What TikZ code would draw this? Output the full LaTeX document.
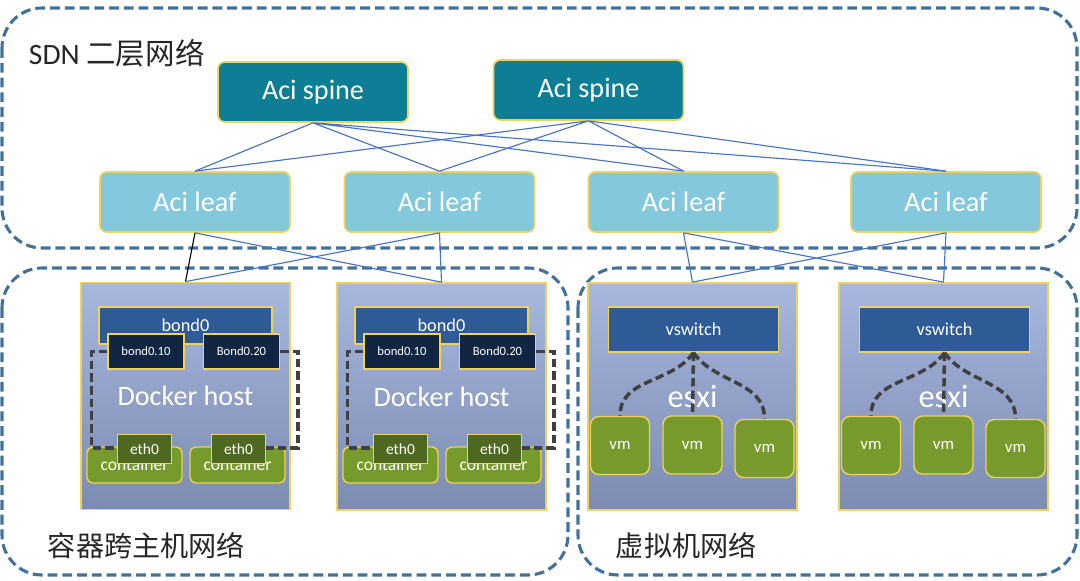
\documentclass[tikz,border=0pt]{standalone}
\usepackage{fontspec}
\setmainfont{Carlito}
\newfontfamily\cjk{Noto Sans CJK SC}
\usepackage{xcolor}
\usepackage{tikz}
\usetikzlibrary{positioning}
\definecolor{zoneblue}{RGB}{65,113,156}
\definecolor{spineteal}{RGB}{14,125,150}
\definecolor{leafblue}{RGB}{132,200,222}
\definecolor{edgeyellow}{RGB}{238,210,90}
\definecolor{linkblue}{RGB}{68,114,196}
\definecolor{bondblue}{RGB}{46,90,150}
\definecolor{vlannavy}{RGB}{18,38,68}
\definecolor{ethgreen}{RGB}{78,104,32}
\definecolor{vmgreen}{RGB}{118,155,44}
\definecolor{hosttop}{RGB}{168,183,222}
\definecolor{hostbot}{RGB}{124,139,176}
\definecolor{vethgray}{RGB}{64,64,64}

\begin{document}
\begin{tikzpicture}[x=0.025cm,y=-0.025cm,
  zone/.style={draw=zoneblue, line width=2.2pt, dash pattern=on 7pt off 3.5pt, rounded corners=1cm},
  zonetext/.style={anchor=west, text=black!85, font=\fontsize{20}{24}\selectfont},
  spine/.style={rectangle, draw=edgeyellow, line width=1.2pt, fill=spineteal, rounded corners=5pt, text=white,
              font=\fontsize{20}{24}\selectfont, minimum width=4.75cm, minimum height=1.5cm},
  leaf/.style={spine, fill=leafblue},
  host/.style={rectangle, draw=edgeyellow, line width=1.2pt, top color=hosttop, bottom color=hostbot, text=white,
              font=\fontsize{20}{24}\selectfont, minimum width=5.225cm, minimum height=5.675cm},
  esxihost/.style={host, font=\fontsize{23}{27}\selectfont},
  bond/.style={rectangle, draw=edgeyellow, line width=1pt, fill=bondblue, text=white, font=\fontsize{13}{15}\selectfont,
              minimum width=4.325cm, minimum height=0.925cm},
  vswitch/.style={bond, minimum width=4.25cm, minimum height=1.125cm},
  vlan/.style={rectangle, draw=edgeyellow, line width=1pt, fill=vlannavy, text=white,
              font=\fontsize{9}{11}\selectfont, minimum width=1.9cm, minimum height=0.875cm},
  eth/.style={rectangle, draw=edgeyellow, line width=1pt, fill=ethgreen, text=white,
              font=\fontsize{11}{13}\selectfont, minimum width=1.35cm, minimum height=0.725cm},
  ctr/.style={rectangle, draw=edgeyellow, line width=1pt, fill=vmgreen, rounded corners=4pt, text=white,
              font=\fontsize{12.5}{15}\selectfont, minimum width=2.375cm, minimum height=0.9cm},
  vm/.style={ctr, rounded corners=6pt, font=\fontsize{12}{14}\selectfont,
              minimum width=1.475cm, minimum height=1.45cm},
  link/.style={draw=linkblue, line width=0.8pt},
  veth/.style={draw=vethgray, line width=2.5pt, dash pattern=on 6pt off 3pt}]
  \useasboundingbox (0,0) rectangle (1080,580);

  % network zones
  \draw[zone] (2,8) rectangle (1077,248);
  \draw[zone] (2,268) rectangle (568,575);
  \draw[zone] (578,268) rectangle (1077,575);
  \node[zonetext, font=\fontsize{21}{25}\selectfont](sdn) at (24,53) {SDN \cjk 二层网络};
  \node[zonetext](cnet) at (43,546) {\cjk 容器跨主机网络};
  \node[zonetext](vnet) at (611,546) {\cjk 虚拟机网络};

  % spine / leaf
  \node[spine](sp1) at (313,92) {Aci spine};
  \node[spine](sp2) at (588.5,90) {Aci spine};
  \node[leaf](lf1) at (195,202) {Aci leaf};
  \node[leaf](lf2) at (439.5,202) {Aci leaf};
  \node[leaf](lf3) at (683.5,202) {Aci leaf};
  \node[leaf](lf4) at (946,202) {Aci leaf};
  \draw[link](sp1.south)--(lf1.north) (sp1.south)--(lf2.north) (sp1.south)--(lf3.north) (sp1.south)--(lf4.north);
  \draw[link](sp2.south)--(lf1.north) (sp2.south)--(lf2.north) (sp2.south)--(lf3.north) (sp2.south)--(lf4.north);

  % hosts
  \node[host](h1) at (185.5,396) {Docker host};
  \node[host](h2) at (441.5,396.5) {Docker host};
  \node[esxihost](h3) at (692.5,396.5) {esxi};
  \node[esxihost](h4) at (943.5,396.5) {esxi};
  \draw[line width=0.8pt](lf1.south)--(h1.north);
  \draw[link](lf1.south)--(h2.north) (lf2.south)--(h1.north) (lf2.south)--(h2.north);
  \draw[link](lf3.south)--(h3.north) (lf3.south)--(h4.north) (lf4.south)--(h3.north) (lf4.south)--(h4.north);

  % docker host 1
  \node[bond](bd1) at (185.5,325.5) {bond0};
  \node[vlan](b11) at (146,351.5) {bond0.10};
  \node[vlan](b12) at (241.5,351.5) {Bond0.20};
  \node[ctr](c11) at (134.5,465) {container};
  \node[ctr](c12) at (237.5,465) {container};
  \draw[veth](b11.west) -- ++(-16,0) |- (134.5,448);
  \draw[veth](b12.east) -- ++(18,0) |- (237.5,448);
  \node[eth](e11) at (144.5,449) {eth0};
  \node[eth](e12) at (238.5,449) {eth0};

  % docker host 2
  \node[bond](bd2) at (441.5,325.5) {bond0};
  \node[vlan](b21) at (402,351.5) {bond0.10};
  \node[vlan](b22) at (497.5,351.5) {Bond0.20};
  \node[ctr](c21) at (390.5,465) {container};
  \node[ctr](c22) at (493.5,465) {container};
  \draw[veth](b21.west) -- ++(-16,0) |- (390.5,448);
  \draw[veth](b22.east) -- ++(18,0) |- (493.5,448);
  \node[eth](e21) at (400.5,449) {eth0};
  \node[eth](e22) at (494.5,449) {eth0};

  % esxi hosts
  \node[vswitch](sw3) at (693.5,329.5) {vswitch};
  \node[vm](v31) at (620,445.5) {vm};
  \node[vm](v32) at (692.5,445) {vm};
  \node[vm](v33) at (764.5,448.5) {vm};
  \draw[veth](sw3.south) to[out=235,in=90] (v31.north);
  \draw[veth](sw3.south) -- (v32.north);
  \draw[veth](sw3.south) to[out=-55,in=90] (v33.north);

  \node[vswitch](sw4) at (944.5,329.5) {vswitch};
  \node[vm](v41) at (871,445.5) {vm};
  \node[vm](v42) at (943.5,445) {vm};
  \node[vm](v43) at (1015.5,448.5) {vm};
  \draw[veth](sw4.south) to[out=235,in=90] (v41.north);
  \draw[veth](sw4.south) -- (v42.north);
  \draw[veth](sw4.south) to[out=-55,in=90] (v43.north);
\end{tikzpicture}
\end{document}
